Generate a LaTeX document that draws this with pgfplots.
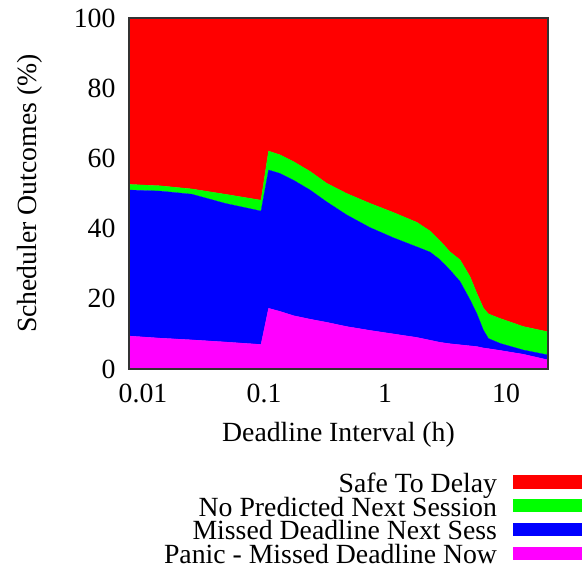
\documentclass[border=0pt]{standalone}
\usepackage{pgfplots}
\pgfplotsset{compat=1.18}
\usepackage{pgfplotstable}
\usepackage{fontspec}
\setmainfont{Liberation Serif}
\definecolor{cRed}{RGB}{255,0,0}
\definecolor{cGreen}{RGB}{0,255,0}
\definecolor{cBlue}{RGB}{0,0,255}
\definecolor{cMag}{RGB}{255,0,255}
\pgfplotstableread{
x        panic missed nopred safe
0.00766  9.4   41.6   1.6    47.4
0.0138   8.8   41.9   1.5    47.8
0.0253   8.3   41.5   1.5    48.7
0.0476   7.7   39.5   2.6    50.2
0.0944   7.0   38.0   3.1    51.9
0.109    17.3  39.4   5.4    37.9
0.136    16.4  39.3   5.3    39.0
0.175    15.2  38.6   5.3    40.9
0.240    14.2  36.8   5.3    43.7
0.330    13.3  34.3   5.3    47.1
0.482    12.1  31.8   6.1    50.0
0.751    11.0  29.3   6.9    52.8
1.171    10.0  27.4   7.2    55.4
1.83     9.0   25.8   7.0    58.2
2.36     8.2   25.1   6.0    60.7
2.85     7.6   23.5   5.4    63.5
3.44     7.2   21.0   5.2    66.6
4.17     6.9   18.0   6.2    68.9
5.04     6.6   13.1   6.6    73.7
5.73     6.4   9.4    5.8    78.4
6.49     6.0   5.1    6.3    82.6
7.14     5.8   2.9    7.0    84.3
8.92     5.3   2.0    7.1    85.6
13.9     4.2   1.2    6.7    87.9
22.2     2.6   1.4    6.6    89.4
}\datatable
\begin{document}
\fontsize{11.1}{13}\selectfont
\begin{tikzpicture}
\begin{axis}[
  at={(0,0)}, anchor=south west,
  scale only axis,
  width=167.6pt, height=140.4pt,
  xmode=log,
  xmin=0.00766, xmax=22.2,
  ymin=0, ymax=100,
  xtick={0.01,0.1,1,10},
  xticklabels={0.01,0.1,1,10},
  minor xtick={},
  ytick={0,20,40,60,80,100},
  tick style={draw=none},
  /pgf/number format/assume math mode=true,
  ticklabel style={font=\fontsize{11.1}{13}\selectfont},
  xticklabel style={yshift=-2pt},
  yticklabel style={xshift=-1.5pt},
  axis line style={draw=black!80, line width=0.5pt},
  stack plots=y,
  area style,
  every axis plot/.append style={mark=none},
  xlabel={Deadline Interval (h)},
  ylabel={Scheduler Outcomes (\%)},
  xlabel style={at={(axis description cs:0.5,-0.188)}, anchor=center},
  ylabel style={at={(axis description cs:-0.236,0.5)}, anchor=center},
  reverse legend,
  legend plot pos=right,
  legend cell align=right,
  legend style={at={(axis description cs:1.0811,-0.3031)}, anchor=north east,
    draw=none, fill=none, inner sep=0pt, outer sep=0pt,
    column sep=6.3pt, row sep=0pt,
    nodes={inner sep=0pt, text height=6.5pt, text depth=2.7pt},
    font=\fontsize{11.1}{13}\selectfont},
  legend image code/.code={\path[#1,draw=none] (0pt,-0.4pt) rectangle (27.7pt,4.9pt);},
]
\addplot[fill=cMag, draw=cMag, line width=0.1pt] table[x=x,y=panic]{\datatable} \closedcycle;
\addlegendentry{Panic - Missed Deadline Now}
\addplot[fill=cBlue, draw=cBlue, line width=0.1pt] table[x=x,y=missed]{\datatable} \closedcycle;
\addlegendentry{Missed Deadline Next Sess}
\addplot[fill=cGreen, draw=cGreen, line width=0.1pt] table[x=x,y=nopred]{\datatable} \closedcycle;
\addlegendentry{No Predicted Next Session}
\addplot[fill=cRed, draw=cRed, line width=0.1pt] table[x=x,y=safe]{\datatable} \closedcycle;
\addlegendentry{Safe To Delay}
\end{axis}
\pgfresetboundingbox
\path[use as bounding box] (-51.6pt,-80.8pt) rectangle (181.2pt,147.6pt);
\end{tikzpicture}
\end{document}
